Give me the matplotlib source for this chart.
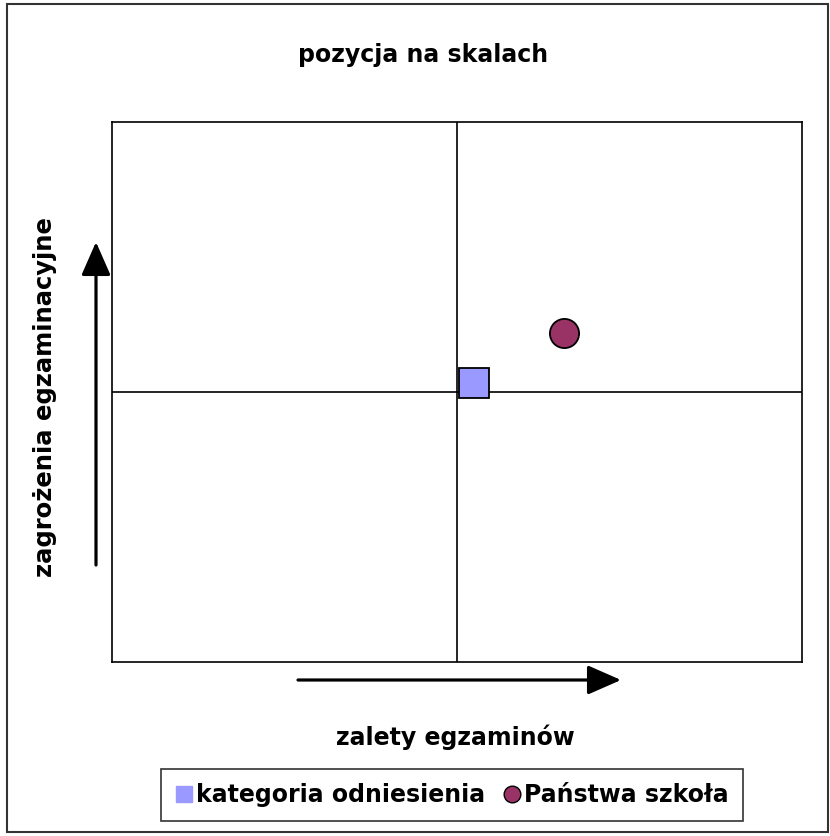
import matplotlib.pyplot as plt
from matplotlib.patches import Rectangle

# Daten
serien = ['kategoria odniesienia', 'Państwa szkoła']
x_werte = [0.05, 0.31]
y_werte = [0.034, 0.22]
marker = ['s', 'o']
farben = ['#9999FF', '#993366']
groessen = [22, 21]

plt.rcParams['font.family'] = ['DejaVu Sans']

fig = plt.figure(figsize=(8.3, 8.36), dpi=100)
ax = fig.add_axes([112 / 830, 1 - 662 / 836, 690 / 830, 540 / 836])

# Achsenkreuz
ax.axvline(0, color='black', lw=1.2, zorder=1)
ax.axhline(0, color='black', lw=1.2, zorder=1)

handles = []
for name, xv, yv, m, c, s in zip(serien, x_werte, y_werte, marker, farben, groessen):
    h, = ax.plot(xv, yv, marker=m, color=c, markersize=s, markeredgecolor='black',
                 markeredgewidth=1.3, linestyle='none', label=name, zorder=3)
    handles.append(h)

ax.set_xlim(-1, 1)
ax.set_ylim(-1, 1)
ax.set_xticks([])
ax.set_yticks([])
for sp in ax.spines.values():
    sp.set_linewidth(1.2)

# Titel und Beschriftungen
fig.text(423 / 830, 1 - 55 / 836, 'pozycja na skalach', ha='center', va='center',
         fontsize=17, fontweight='bold')
fig.text(455 / 830, 1 - 737 / 836, 'zalety egzaminów', ha='center', va='center',
         fontsize=17, fontweight='bold')
fig.text(45 / 830, 1 - 397 / 836, 'zagrożenia egzaminacyjne', ha='center', va='center',
         fontsize=17.5, fontweight='bold', rotation=90)

# Pfeile
pfeil = dict(arrowstyle='-|>,head_length=2.05,head_width=0.9', color='black', lw=2.3,
             shrinkA=0, shrinkB=0, mutation_scale=10)
fig.add_artist(plt.Annotation('', xy=(96 / 830, 1 - 242 / 836), xytext=(96 / 830, 1 - 565 / 836),
                              xycoords='figure fraction', arrowprops=pfeil))
fig.add_artist(plt.Annotation('', xy=(621 / 830, 1 - 680 / 836), xytext=(298 / 830, 1 - 680 / 836),
                              xycoords='figure fraction', arrowprops=pfeil))

# Legende
leg = fig.legend(handles=[plt.Line2D([], [], marker='s', color=farben[0], markersize=12,
                                     linestyle='none'),
                          plt.Line2D([], [], marker='o', color=farben[1], markersize=12,
                                     markeredgecolor='black', linestyle='none')],
                 labels=serien, ncol=2, loc='center', bbox_to_anchor=(452 / 830, 1 - 795 / 836),
                 frameon=True, fancybox=False, edgecolor='black', handlelength=0.7,
                 handletextpad=0.15, columnspacing=0.8, borderpad=0.6, borderaxespad=0,
                 prop={'size': 17, 'weight': 'bold'})
leg.get_frame().set_linewidth(1.2)

# Rahmen um das Diagramm
fig.add_artist(Rectangle((7 / 830, 4 / 836), 821 / 830, 828 / 836, transform=fig.transFigure,
                         fill=False, edgecolor='#333333', lw=1.5))

fig.savefig('out.png', dpi=100)
